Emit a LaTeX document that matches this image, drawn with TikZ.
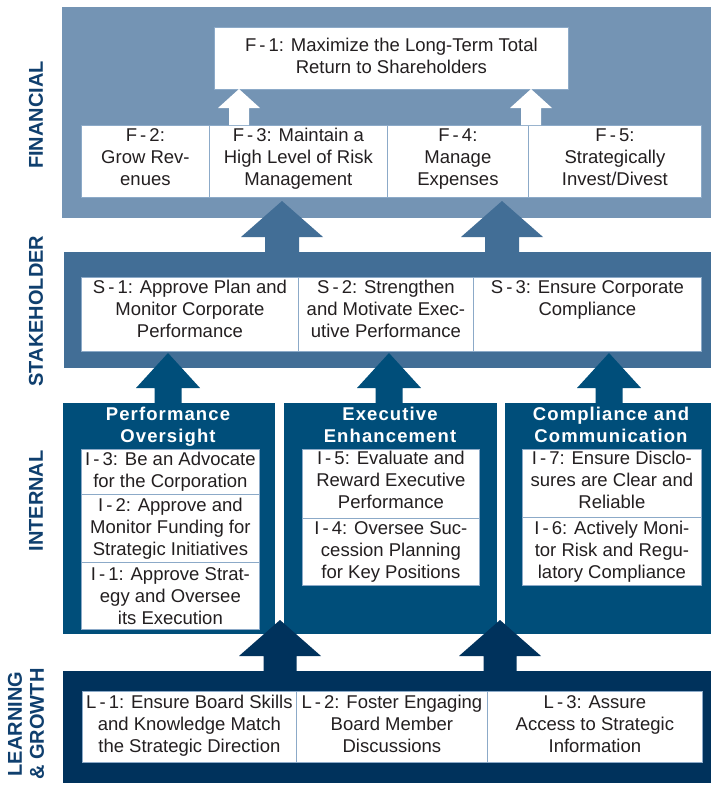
\documentclass[tikz,border=0pt]{standalone}
\usepackage{fontspec}
\setmainfont{Liberation Sans}
\newfontfamily\headfont[LetterSpace=6]{Liberation Sans}
\usepackage{tikz}
\usetikzlibrary{calc}

\definecolor{fincol}{HTML}{7494B4}
\definecolor{stkcol}{HTML}{426E96}
\definecolor{intcol}{HTML}{004E7A}
\definecolor{lgcol}{HTML}{00325C}
\definecolor{labcol}{HTML}{0F3F6E}
\definecolor{boxline}{HTML}{8CAAC8}
\definecolor{textcol}{HTML}{231F20}

\newcommand{\bodyfont}{\fontsize{18.5}{22}\selectfont}
% block arrow: colour, foot, tip, head length, half head, half shaft
\newcommand{\upblock}[6]{%
  \fill[#1] let \p1=(#2), \p2=(#3) in
    (\x2-#6pt,\y1) -- (\x2-#6pt,\y2-#4pt) -- (\x2-#5pt,\y2-#4pt) -- (\x2,\y2)
    -- (\x2+#5pt,\y2-#4pt) -- (\x2+#6pt,\y2-#4pt) -- (\x2+#6pt,\y1) -- cycle;}

\begin{document}
\begin{tikzpicture}[x=1pt,y=-1pt,
  panel/.style={anchor=north west,inner sep=0pt,draw=none},
  box/.style={draw=boxline,line width=0.8pt,fill=white,anchor=north west,
    inner sep=0pt,align=center,text=textcol,font=\bodyfont},
  lift/.style={text depth=#1},
  side/.style={rotate=90,text=labcol,align=center,
    font=\fontsize{20}{22}\selectfont\bfseries},
  title/.style={anchor=north,text=white,align=center,inner sep=0pt,
    font=\headfont\bfseries\fontsize{18.5}{21.5}\selectfont}]
\useasboundingbox[fill=white] (0,0) rectangle (711,785);

% Panels
\node[panel,fill=fincol,minimum width=649,minimum height=211] (fin) at (62,7) {};
\node[panel,fill=stkcol,minimum width=647,minimum height=116] (stk) at (64,252) {};
\node[panel,fill=intcol,minimum width=212,minimum height=231] (int1) at (63,403) {};
\node[panel,fill=intcol,minimum width=213,minimum height=231] (int2) at (284,403) {};
\node[panel,fill=intcol,minimum width=206,minimum height=231] (int3) at (505,403) {};
\node[panel,fill=lgcol,minimum width=648,minimum height=112] (lg) at (63,671) {};

% Side labels
\node[side] (lfin) at (36,115) {FINANCIAL};
\node[side] (lstk) at (36,311) {STAKEHOLDER};
\node[side] (lint) at (36,501) {INTERNAL};
\node[side] (llg) at (26,724) {LEARNING\\\& GROWTH};

% Arrows between the perspectives
\coordinate (sa) at (282,201);
\coordinate (sb) at (502,201);
\upblock{stkcol}{sa |- stk.north}{sa}{36}{41}{17}
\upblock{stkcol}{sb |- stk.north}{sb}{36}{41}{17}
\coordinate (ia) at (168,353);
\coordinate (ib) at (389,353);
\coordinate (ic) at (609,353);
\upblock{intcol}{ia |- int1.north}{ia}{35}{32}{13.5}
\upblock{intcol}{ib |- int2.north}{ib}{35}{32}{13.5}
\upblock{intcol}{ic |- int3.north}{ic}{35}{32}{13.5}
\coordinate (la) at (280,620);
\coordinate (lb) at (500,620);
\upblock{lgcol}{la |- lg.north}{la}{36}{41}{16.5}
\upblock{lgcol}{lb |- lg.north}{lb}{36}{41}{16.5}

% Financial
\node[box,lift=6pt,minimum width=354,minimum height=62] (f1) at (214,27)
  {F\,-\,1: Maximize the Long-Term Total\\Return to Shareholders};
\node[box,lift=8.5pt,minimum width=128,minimum height=72] (f2) at (81,125)
  {F\,-\,2:\\Grow Rev-\\enues};
\node[box,lift=8.5pt,minimum width=178,minimum height=72] (f3) at (209,125)
  {F\,-\,3: Maintain a\\High Level of Risk\\Management};
\node[box,lift=8.5pt,minimum width=141,minimum height=72] (f4) at (387,125)
  {F\,-\,4:\\Manage\\Expenses};
\node[box,lift=8.5pt,minimum width=173,minimum height=72] (f5) at (528,125)
  {F\,-\,5:\\Strategically\\Invest/Divest};
\coordinate (wa) at (239,89);
\coordinate (wb) at (531,89);
\upblock{white}{wa |- f3.north}{wa}{19}{21}{10}
\upblock{white}{wb |- f4.north}{wb}{19}{21}{10}

% Stakeholder
\node[box,lift=11pt,minimum width=217,minimum height=74] (s1) at (81,277)
  {S\,-\,1: Approve Plan and\\Monitor Corporate\\Performance};
\node[box,lift=11pt,minimum width=175,minimum height=74] (s2) at (298,277)
  {S\,-\,2: Strengthen\\and Motivate Exec-\\utive Performance};
\node[box,lift=11pt,minimum width=228,minimum height=74] (s3) at (473,277)
  {S\,-\,3: Ensure Corporate\\Compliance\\\mbox{}};

% Internal
\node[title] (t1) at (168,407) {Performance\\Oversight};
\node[title] (t2) at (390,407) {Executive\\Enhancement};
\node[title] (t3) at (611,407) {Compliance and\\Communication};
\node[box,minimum width=178,minimum height=45] (i3) at (81,449)
  {I\,-\,3: Be an Advocate\\for the Corporation};
\node[box,minimum width=178,minimum height=68] (i2) at (81,494)
  {I\,-\,2: Approve and\\Monitor Funding for\\Strategic Initiatives};
\node[box,minimum width=178,minimum height=67] (i1) at (81,562)
  {I\,-\,1: Approve Strat-\\egy and Oversee\\its Execution};
\node[box,lift=7.5pt,minimum width=177,minimum height=69] (i5) at (302,449)
  {I\,-\,5: Evaluate and\\Reward Executive\\Performance};
\node[box,minimum width=177,minimum height=67] (i4) at (302,518)
  {I\,-\,4: Oversee Suc-\\cession Planning\\for Key Positions};
\node[box,lift=7.5pt,minimum width=179,minimum height=68] (i7) at (522,449)
  {I\,-\,7: Ensure Disclo-\\sures are Clear and\\Reliable};
\node[box,minimum width=179,minimum height=68] (i6) at (522,517)
  {I\,-\,6: Actively Moni-\\tor Risk and Regu-\\latory Compliance};

% Learning & growth
\node[box,lift=6.5pt,minimum width=214,minimum height=71] (l1) at (82,691)
  {L\,-\,1: Ensure Board Skills\\and Knowledge Match\\the Strategic Direction};
\node[box,lift=6.5pt,minimum width=191,minimum height=71] (l2) at (296,691)
  {L\,-\,2: Foster Engaging\\Board Member\\Discussions};
\node[box,lift=6.5pt,minimum width=215,minimum height=71] (l3) at (487,691)
  {L\,-\,3: Assure\\Access to Strategic\\Information};
\end{tikzpicture}
\end{document}
